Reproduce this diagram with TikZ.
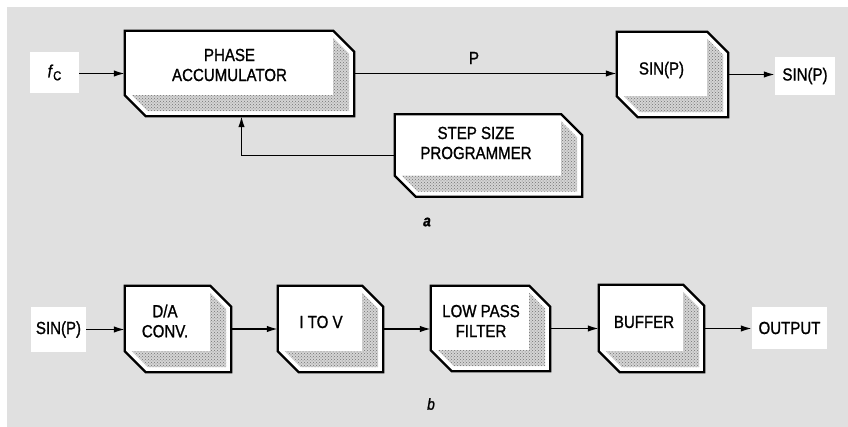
\documentclass[tikz,border=0pt]{standalone}
\usepackage{fontspec}
\setmainfont[FakeStretch=0.86,FakeBold=1.1]{Liberation Sans}
\usetikzlibrary{arrows.meta,calc,patterns}
\definecolor{bg}{RGB}{224,224,224}
\definecolor{stip}{RGB}{212,212,212}
\newcommand\chpath[1]{(#1.north west) -- ($(#1.north east)+(-21,0)$) -- ($(#1.north east)+(0,21)$)
  -- (#1.south east) -- ($(#1.south west)+(21,0)$) -- ($(#1.south west)+(0,-21)$) -- cycle}
\newcommand\chband[1]{($(#1.north east)+(-21,7)$) -- ($(#1.north east)+(-5,23)$)
  -- ($(#1.south east)+(-5,-5)$) -- ($(#1.south west)+(23,-5)$) -- ($(#1.south west)+(7,-21)$)
  -- ($(#1.south east)+(-21,-21)$) -- cycle}
\newcommand\chbox[1]{%
  \fill[white] \chpath{#1};
  \fill[stip] \chband{#1};
  \fill[pattern=crosshatch dots, pattern color=black!55] \chband{#1};
  \draw[outline] \chpath{#1};}
\begin{document}
\begin{tikzpicture}[x=1pt,y=-1pt,
  blk/.style={rectangle, inner sep=0pt},
  outline/.style={line width=2.3pt, line join=miter},
  txt/.style={align=center, inner sep=0pt, font=\fontsize{17.5}{20}\selectfont},
  lbl/.style={fill=white, inner sep=0pt, font=\fontsize{17.5}{20}\selectfont},
  arr/.style={line width=1.6pt, -{Latex[length=11pt,width=6.5pt]}}]
\useasboundingbox (0,0) rectangle (848,427);
\fill[bg] (7,7) rectangle (848,427);

% ---- part a ----
\node[lbl, minimum width=49pt, minimum height=41pt] (fc) at (54.5,72.5)
  {\textit{f}\raisebox{-3pt}{\fontsize{13}{13}\selectfont C}};
\node[blk, minimum width=229pt, minimum height=85pt] (pa) at (239.5,73.5) {};
\chbox{pa}
\node[txt] (pat) at (229.5,65) {PHASE\\ACCUMULATOR};
\node[blk, minimum width=111pt, minimum height=85pt] (sin) at (672.5,74.5) {};
\chbox{sin}
\node[txt] (sint) at (661.5,70) {SIN(P)};
\node[lbl, minimum width=60pt, minimum height=38pt] (sinout) at (805,76) {SIN(P)};
\node[blk, minimum width=187pt, minimum height=82pt] (ssp) at (488.5,155.5) {};
\chbox{ssp}
\node[txt] (sspt) at (476,143) {STEP SIZE\\PROGRAMMER};
\node[txt] (plab) at (474,58) {P};
\node[inner sep=0pt, font=\fontsize{16}{16}\selectfont\bfseries\itshape] (alab) at (427,222) {a};

\draw[arr] (pa.west -| fc.east) -- (pa.west);
\draw[arr] (pa.east) -- (pa.east -| sin.west);
\draw[arr] (sin.east) -- (sin.east -| sinout.west);
\draw[arr] (ssp.west) -| ($(pa.south)+(2,0)$);

% ---- part b ----
\node[lbl, minimum width=55pt, minimum height=45pt] (sinin) at (58.5,329.5) {SIN(P)};
\node[blk, minimum width=106pt, minimum height=86pt] (da) at (178,329) {};
\chbox{da}
\node[txt] (dat) at (165,321) {D/A\\CONV.};
\node[blk, minimum width=105pt, minimum height=86pt] (itv) at (330.5,329) {};
\chbox{itv}
\node[txt] (itvt) at (321,322) {I TO V};
\node[blk, minimum width=119pt, minimum height=85pt] (lpf) at (490.5,328.5) {};
\chbox{lpf}
\node[txt] (lpft) at (481,321) {LOW PASS\\FILTER};
\node[blk, minimum width=105pt, minimum height=87pt] (buf) at (651.5,328.5) {};
\chbox{buf}
\node[txt] (buft) at (644,322) {BUFFER};
\node[lbl, minimum width=75pt, minimum height=42pt] (out) at (789.5,328) {OUTPUT};
\node[inner sep=0pt, font=\fontsize{16}{16}\selectfont\itshape] (blab) at (431,404) {b};

\draw[arr] (sinin.east) -- (sinin.east -| da.west);
\draw[arr] (da.east) -- (da.east -| itv.west);
\draw[arr] (itv.east) -- (itv.east -| lpf.west);
\draw[arr] (lpf.east) -- (lpf.east -| buf.west);
\draw[arr] (buf.east) -- (buf.east -| out.west);
\end{tikzpicture}
\end{document}
